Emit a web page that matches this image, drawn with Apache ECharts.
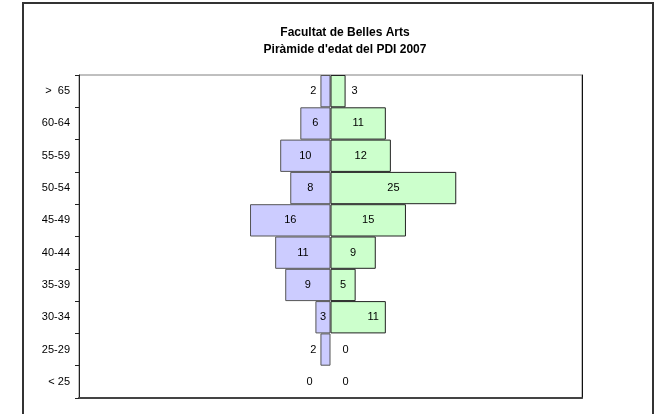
<!DOCTYPE html>
<html>
<head>
<meta charset="utf-8">
<script src="https://cdn.jsdelivr.net/npm/echarts@6/dist/echarts.min.js"></script>
<style>
  html, body { margin: 0; padding: 0; background: #fff; }
  #chart { width: 657px; height: 414px; }
</style>
</head>
<body>
<div id="chart"></div>
<script>
// age groups, top to bottom
const ageGroups = ['>  65', '60-64', '55-59', '50-54', '45-49', '40-44', '35-39', '30-34', '25-29', '< 25'];
// left (blue) and right (green) counts
const leftValues = [2, 6, 10, 8, 16, 11, 9, 3, 2, 0];
const rightValues = [3, 11, 12, 25, 15, 9, 5, 11, 0, 0];

const font = 'Liberation Sans, Arial, sans-serif';

const chart = echarts.init(document.getElementById('chart'));

// small bars get their label outside, like the original spreadsheet
const leftData = leftValues.map(v => {
  const item = { value: -v };
  if (v < 3) {
    item.label = { position: 'left', distance: v === 0 ? 18 : 4 };
  }
  if (v === 0) item.itemStyle = { borderWidth: 0 };
  return item;
});
const rightData = rightValues.map((v, i) => {
  const item = { value: v };
  if (v < 5) {
    item.label = { position: 'right', distance: v === 0 ? 12 : 6 };
  }
  if (v === 0) item.itemStyle = { borderWidth: 0 };
  if (i === 7) {
    item.label = { offset: [15, 0] };
  }
  return item;
});

const option = {
  animation: false,
  title: {
    text: "Facultat de Belles Arts\nPiràmide d'edat del PDI 2007",
    left: 340,
    textAlign: 'center',
    top: 19,
    textStyle: { fontFamily: font, fontSize: 12, fontWeight: 'bold', color: '#000', lineHeight: 17 }
  },
  graphic: [{
    type: 'rect',
    shape: { x: 23, y: 3, width: 630, height: 430 },
    style: { fill: 'none', stroke: '#333', lineWidth: 2 },
    silent: true
  }],
  grid: {
    left: 79, right: 75, top: 75, bottom: 16,
    show: true,
    borderColor: '#808080',
    borderWidth: 1
  },
  xAxis: {
    type: 'value',
    min: -50,
    max: 50,
    axisLine: { show: true, onZero: false, lineStyle: { color: '#444', width: 2 } },
    axisTick: { show: false },
    axisLabel: { show: false },
    splitLine: { show: false }
  },
  yAxis: [
    {
      type: 'category',
      inverse: true,
      data: ageGroups,
      axisLine: { onZero: false, lineStyle: { color: '#222', width: 1 } },
      axisTick: { show: true, length: 4, lineStyle: { color: '#222' } },
      axisLabel: { fontFamily: font, fontSize: 11, color: '#000', margin: 9 },
      splitLine: { show: false }
    },
    {
      type: 'category',
      inverse: true,
      position: 'right',
      data: ageGroups,
      axisLine: { onZero: false, lineStyle: { color: '#111', width: 1 } },
      axisTick: { show: false },
      axisLabel: { show: false },
      splitLine: { show: false }
    }
  ],
  series: [
    {
      type: 'bar',
      data: leftData,
      barGap: '-100%',
      barCategoryGap: 0,
      itemStyle: { color: '#ccccff', borderColor: '#555', borderWidth: 1 },
      label: {
        show: true,
        position: 'inside',
        fontFamily: font,
        fontSize: 11,
        color: '#000',
        formatter: p => Math.abs(p.value)
      }
    },
    {
      type: 'bar',
      data: rightData,
      barGap: '-100%',
      barCategoryGap: 0,
      itemStyle: { color: '#ccffcc', borderColor: '#222', borderWidth: 1 },
      label: {
        show: true,
        position: 'inside',
        fontFamily: font,
        fontSize: 11,
        color: '#000'
      }
    }
  ]
};

chart.setOption(option);
</script>
</body>
</html>
